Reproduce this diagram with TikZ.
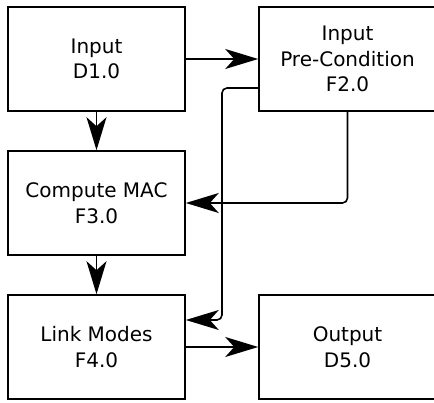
\documentclass[tikz,border=0pt]{standalone}
\usepackage{fontspec}
\setmainfont{DejaVu Sans}
\usetikzlibrary{arrows.meta,positioning}
\begin{document}
\begin{tikzpicture}[x=1pt,y=-1pt,
 block/.style={draw,line width=1.6pt,rectangle,minimum width=177pt,minimum height=104pt,align=center,font=\fontsize{20}{25.5}\selectfont},
 flow/.style={line width=1.6pt,-{Stealth[length=33pt,width=20pt,inset=9pt]}}]
 \useasboundingbox (0,0) rectangle (434,403);
 \node[block] (inp) at (96.5,59) {Input\\D1.0};
 \node[block] (pre) at (347.5,59) {Input\\Pre-Condition\\F2.0};
 \node[block] (mac) at (96.5,203) {Compute MAC\\F3.0};
 \node[block] (lnk) at (96.5,347) {Link Modes\\F4.0};
 \node[block] (out) at (347.5,347) {Output\\D5.0};
 \draw[flow] (inp) -- (pre);
 \draw[flow] (inp) -- (mac);
 \draw[flow] (mac) -- (lnk);
 \draw[flow] (lnk) -- (out);
 \draw[flow,rounded corners=5pt] (pre.south) |- (mac.east);
 \draw[flow,rounded corners=5pt] ([yshift=-29pt]pre.west) -| (222,200) |- ([yshift=27pt]lnk.east);
\end{tikzpicture}
\end{document}
